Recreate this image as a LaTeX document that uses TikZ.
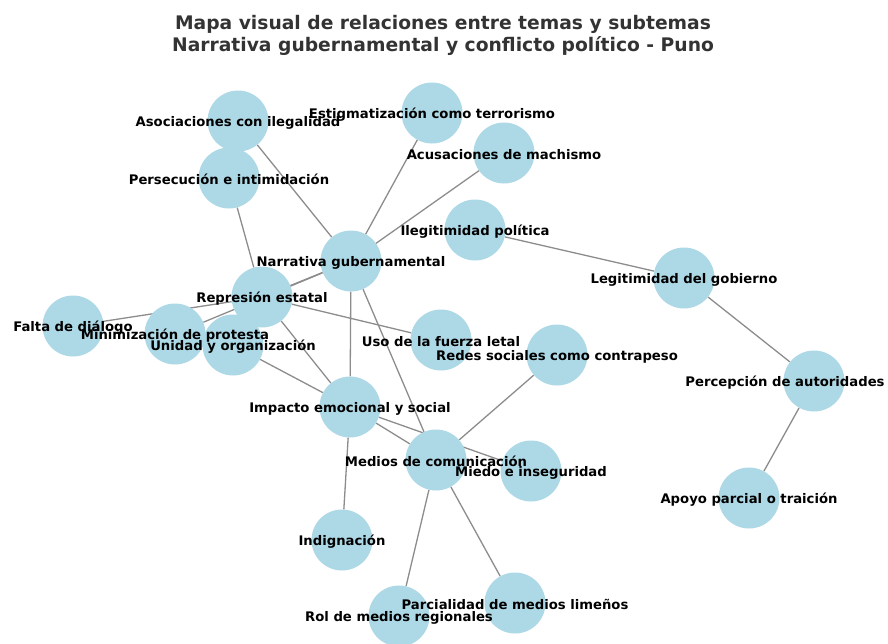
\documentclass[tikz,border=0pt]{standalone}
\usepackage{fontspec}
\setmainfont{DejaVu Sans}
\usetikzlibrary{backgrounds}
\definecolor{nodeblue}{RGB}{173,216,230}
\definecolor{titlegray}{RGB}{51,51,51}
\definecolor{edgegray}{RGB}{140,140,140}
\begin{document}
\begin{tikzpicture}[x=1pt, y=-1pt,
    tema/.style={circle, fill=nodeblue, minimum size=61pt, inner sep=0pt},
    rotulo/.style={font=\fontsize{13.2}{15}\selectfont\bfseries, inner sep=0pt, yshift=-1.5pt},
    enlace/.style={edgegray, line width=1.3pt}]
    \useasboundingbox (0,0) rectangle (888,643);
    \node[font=\fontsize{18.7}{22}\selectfont\bfseries, align=center, text=titlegray] (titulo) at (443,35)
        {Mapa visual de relaciones entre temas y subtemas\\Narrativa gubernamental y conflicto político - Puno};

    % temas
    \node[tema] (asoc) at (238,121) {};
    \node[tema] (estig) at (432,113) {};
    \node[tema] (acus) at (504,153) {};
    \node[tema] (pers) at (229,178) {};
    \node[tema] (ileg) at (475,230) {};
    \node[tema] (narr) at (351,261) {};
    \node[tema] (legit) at (684,278) {};
    \node[tema] (repr) at (262,297) {};
    \node[tema] (falta) at (73,326) {};
    \node[tema] (mini) at (175,334) {};
    \node[tema] (unid) at (233,345) {};
    \node[tema] (uso) at (441,340) {};
    \node[tema] (redes) at (557,355) {};
    \node[tema] (perc) at (814,381) {};
    \node[tema] (imp) at (350,407) {};
    \node[tema] (medios) at (436,460) {};
    \node[tema] (miedo) at (531,471) {};
    \node[tema] (indig) at (342,540) {};
    \node[tema] (apoyo) at (749,498) {};
    \node[tema] (parc) at (515,603) {};
    \node[tema] (rol) at (399,616) {};

    % relaciones
    \begin{scope}[on background layer]
        \draw[enlace] (asoc) -- (narr);
        \draw[enlace] (estig) -- (narr);
        \draw[enlace] (acus) -- (narr);
        \draw[enlace] (pers) -- (repr);
        \draw[enlace] (narr) -- (repr);
        \draw[enlace] (narr) -- (mini);
        \draw[enlace] (falta) -- (repr);
        \draw[enlace] (repr) -- (uso);
        \draw[enlace] (repr) -- (imp);
        \draw[enlace] (unid) -- (imp);
        \draw[enlace] (narr) -- (imp);
        \draw[enlace] (narr) -- (medios);
        \draw[enlace] (imp) -- (medios);
        \draw[enlace] (imp) -- (miedo);
        \draw[enlace] (imp) -- (indig);
        \draw[enlace] (medios) -- (redes);
        \draw[enlace] (medios) -- (rol);
        \draw[enlace] (medios) -- (parc);
        \draw[enlace] (ileg) -- (legit);
        \draw[enlace] (legit) -- (perc);
        \draw[enlace] (perc) -- (apoyo);
    \end{scope}

    % etiquetas
    \node[rotulo] (asoc-t) at (asoc) {Asociaciones con ilegalidad};
    \node[rotulo] (estig-t) at (estig) {Estigmatización como terrorismo};
    \node[rotulo] (acus-t) at (acus) {Acusaciones de machismo};
    \node[rotulo] (pers-t) at (pers) {Persecución e intimidación};
    \node[rotulo] (ileg-t) at (ileg) {Ilegitimidad política};
    \node[rotulo] (narr-t) at (narr) {Narrativa gubernamental};
    \node[rotulo] (legit-t) at (legit) {Legitimidad del gobierno};
    \node[rotulo] (repr-t) at (repr) {Represión estatal};
    \node[rotulo] (falta-t) at (falta) {Falta de diálogo};
    \node[rotulo] (mini-t) at (mini) {Minimización de protesta};
    \node[rotulo] (unid-t) at (unid) {Unidad y organización};
    \node[rotulo] (uso-t) at (uso) {Uso de la fuerza letal};
    \node[rotulo] (redes-t) at (redes) {Redes sociales como contrapeso};
    \node[rotulo] (perc-t) at ([xshift=-29pt]perc) {Percepción de autoridades};
    \node[rotulo] (imp-t) at (imp) {Impacto emocional y social};
    \node[rotulo] (medios-t) at (medios) {Medios de comunicación};
    \node[rotulo] (miedo-t) at (miedo) {Miedo e inseguridad};
    \node[rotulo] (indig-t) at (indig) {Indignación};
    \node[rotulo] (apoyo-t) at (apoyo) {Apoyo parcial o traición};
    \node[rotulo] (parc-t) at (parc) {Parcialidad de medios limeños};
    \node[rotulo] (rol-t) at (rol) {Rol de medios regionales};
\end{tikzpicture}
\end{document}
